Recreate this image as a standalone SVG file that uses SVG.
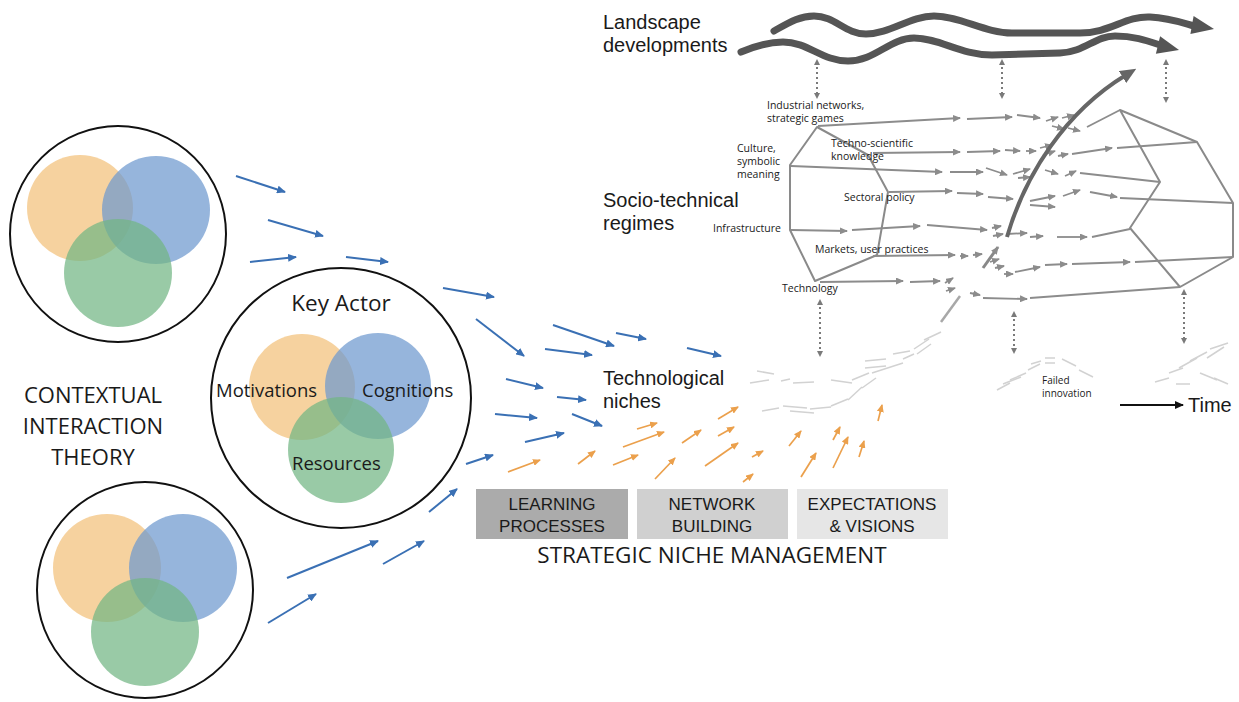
<svg xmlns="http://www.w3.org/2000/svg" width="1239" height="702" viewBox="0 0 1239 702">
<style>
text{font-family:"Open Sans","Liberation Sans",sans-serif;fill:#1a1a1a}
.ring{fill:none;stroke:#111;stroke-width:2}
.o{fill:#f2c07a;fill-opacity:.72}
.b{fill:#6d98cf;fill-opacity:.72}
.g{fill:#72b684;fill-opacity:.72}
.ba{stroke:#3a70b4;stroke-width:2;fill:none;marker-end:url(#mb)}
.oa{stroke:#eba04c;stroke-width:1.7;fill:none;marker-end:url(#mo)}
.ga{stroke:#8c8c8c;stroke-width:1.8;fill:none;marker-end:url(#mg)}
.gl{stroke:#8c8c8c;stroke-width:1.8;fill:none}
.poly{stroke:#8a8a8a;stroke-width:2;fill:none;stroke-linejoin:round}
.lt{stroke:#d2d2d2;stroke-width:1.5;fill:none}
.dot{stroke:#7a7a7a;stroke-width:2;stroke-dasharray:2 3;fill:none;marker-start:url(#md);marker-end:url(#md)}
.wave{stroke:#555;stroke-width:7;fill:none;stroke-linecap:round}
.lbl text{font-size:10.5px}
.lvl text{font-family:"Liberation Sans",Arial,sans-serif;font-size:20px}
.box text{font-family:"Liberation Sans",Arial,sans-serif;font-size:17px;text-anchor:middle}
</style>
<defs>
<marker id="mb" markerUnits="userSpaceOnUse" markerWidth="9" markerHeight="8" refX="8" refY="4" orient="auto"><path d="M0,0 L9,4 L0,8 z" fill="#3a70b4"/></marker>
<marker id="mo" markerUnits="userSpaceOnUse" markerWidth="8" markerHeight="7" refX="7" refY="3.5" orient="auto"><path d="M0,0 L8,3.5 L0,7 z" fill="#eba04c"/></marker>
<marker id="mg" markerUnits="userSpaceOnUse" markerWidth="8" markerHeight="7" refX="7" refY="3.5" orient="auto"><path d="M0,0 L8,3.5 L0,7 z" fill="#8c8c8c"/></marker>
<marker id="md" markerUnits="userSpaceOnUse" markerWidth="6" markerHeight="6" refX="3" refY="3" orient="auto-start-reverse"><path d="M0,0 L6,3 L0,6 z" fill="#7a7a7a"/></marker>
<marker id="mk" markerUnits="userSpaceOnUse" markerWidth="9" markerHeight="8" refX="8" refY="4" orient="auto"><path d="M0,0 L9,4 L0,8 z" fill="#111"/></marker>
<marker id="mc" markerUnits="userSpaceOnUse" markerWidth="16" markerHeight="14" refX="4" refY="7" orient="auto"><path d="M0,0 L16,7 L0,14 z" fill="#666"/></marker>
</defs>
<rect width="1239" height="702" fill="#fff"/>

<g id="context-top">
<circle class="o" cx="80" cy="208" r="53"/>
<circle class="b" cx="156" cy="210" r="54"/>
<circle class="g" cx="118" cy="273" r="54"/>
<circle class="ring" cx="118" cy="234" r="108"/>
</g>
<g id="context-bottom">
<circle class="o" cx="107" cy="568" r="54"/>
<circle class="b" cx="183" cy="568" r="54"/>
<circle class="g" cx="145" cy="632" r="54"/>
<circle class="ring" cx="145" cy="590" r="108"/>
</g>
<g id="key-actor">
<circle class="o" cx="302" cy="387" r="53"/>
<circle class="b" cx="378" cy="386" r="53"/>
<circle class="g" cx="341" cy="450" r="53"/>
<circle class="ring" cx="341" cy="398" r="130"/>
<text x="341" y="311" font-size="22.5" text-anchor="middle">Key Actor</text>
<text x="216" y="397" font-size="18.5">Motivations</text>
<text x="362" y="397" font-size="18.5">Cognitions</text>
<text x="292" y="470" font-size="18.5">Resources</text>
</g>
<g id="cit-label" font-size="22">
<text x="93" y="403" text-anchor="middle">CONTEXTUAL</text>
<text x="93" y="434" text-anchor="middle">INTERACTION</text>
<text x="93" y="465" text-anchor="middle">THEORY</text>
</g>

<g id="snm-boxes">
<rect x="476" y="489" width="152" height="50" fill="#ababab"/>
<rect x="637" y="489" width="151" height="50" fill="#d0d0d0"/>
<rect x="797" y="489" width="151" height="50" fill="#e6e6e6"/>
<g class="box">
<text x="552" y="510">LEARNING</text>
<text x="552" y="532">PROCESSES</text>
<text x="712" y="510">NETWORK</text>
<text x="712" y="532">BUILDING</text>
<text x="872" y="510">EXPECTATIONS</text>
<text x="872" y="532">&amp; VISIONS</text>
</g>
<text x="712" y="563" font-size="22.5" text-anchor="middle">STRATEGIC NICHE MANAGEMENT</text>
</g>

<g id="level-labels" class="lvl">
<text x="603" y="29">Landscape</text>
<text x="603" y="52">developments</text>
<text x="603" y="207">Socio-technical</text>
<text x="603" y="230">regimes</text>
<text x="603" y="385">Technological</text>
<text x="603" y="408">niches</text>
<text x="1188" y="412">Time</text>
</g>

<g id="regime-left">
<polygon class="poly" points="817,127 868,155 888,192 877,255 815,281 790,230 790,165"/>
</g>
<g id="regime-right">
<polygon class="poly" points="1120,110 1197,142 1233,203 1233,257 1180,287 1130,228 1160,182"/>
</g>
<g id="regime-labels" class="lbl">
<text x="767" y="109">Industrial networks,</text>
<text x="767" y="122">strategic games</text>
<text x="737" y="152">Culture,</text>
<text x="737" y="165">symbolic</text>
<text x="737" y="178">meaning</text>
<text x="831" y="147">Techno-scientific</text>
<text x="831" y="160">knowledge</text>
<text x="844" y="201">Sectoral policy</text>
<text x="713" y="232">Infrastructure</text>
<text x="815" y="253">Markets, user practices</text>
<text x="782" y="292">Technology</text>
<text x="1042" y="384" style="font-size:10px">Failed</text>
<text x="1042" y="397" style="font-size:10px">innovation</text>
</g>

<g id="connectors">
<path class="wave" d="M774,31 C790,22 800,16 814,16 C835,16 845,34 866,34 C890,34 910,16 934,16 C960,16 985,33 1012,33 L1080,33 C1110,33 1125,16 1150,17 C1170,18 1183,23 1194,26"/>
<polygon points="1214,29 1193.6,16.1 1190.4,33.9" fill="#555"/>
<path class="wave" d="M741,52 C755,46 768,42 783,42 C808,42 822,61 848,61 C875,61 890,38 914,38 C940,38 960,55 992,55 L1060,53 C1085,52 1095,36 1115,36 C1135,36 1148,41 1160,45"/>
<polygon points="1179,50 1160.1,36.2 1155.9,53.8" fill="#555"/>
<line class="dot" x1="817" y1="62" x2="817" y2="96"/>
<line class="dot" x1="1002" y1="62" x2="1002" y2="96"/>
<line class="dot" x1="1166" y1="62" x2="1166" y2="100"/>
<line class="dot" x1="820" y1="302" x2="820" y2="354"/>
<line class="dot" x1="1014" y1="314" x2="1014" y2="351"/>
<line class="dot" x1="1184" y1="292" x2="1184" y2="341"/>
<line class="ga" x1="818" y1="126" x2="960" y2="118"/>
<line class="ga" x1="967" y1="119" x2="1012" y2="117"/>
<line class="ga" x1="1017" y1="115" x2="1040" y2="118"/>
<line class="ga" x1="1046" y1="121" x2="1058" y2="117"/>
<line class="ga" x1="1052" y1="126" x2="1064" y2="129"/>
<line class="ga" x1="1062" y1="118" x2="1074" y2="115"/>
<line class="ga" x1="1068" y1="128" x2="1080" y2="131"/>
<line class="gl" x1="1087" y1="127" x2="1120" y2="110"/>
<line class="ga" x1="873" y1="153" x2="960" y2="152"/>
<line class="ga" x1="967" y1="152" x2="1000" y2="151"/>
<line class="ga" x1="1005" y1="150" x2="1020" y2="151"/>
<line class="ga" x1="1026" y1="151" x2="1036" y2="151"/>
<line class="ga" x1="1040" y1="148" x2="1052" y2="145"/>
<line class="ga" x1="1043" y1="155" x2="1055" y2="151"/>
<line class="ga" x1="1058" y1="156" x2="1068" y2="154"/>
<line class="ga" x1="1072" y1="154" x2="1112" y2="148"/>
<line class="gl" x1="1117" y1="148" x2="1197" y2="142"/>
<line class="ga" x1="791" y1="166" x2="942" y2="172"/>
<line class="ga" x1="950" y1="172" x2="983" y2="172"/>
<line class="ga" x1="986" y1="168" x2="1007" y2="175"/>
<line class="ga" x1="1013" y1="174" x2="1030" y2="169"/>
<line class="ga" x1="1018" y1="178" x2="1030" y2="177"/>
<line class="ga" x1="1045" y1="170" x2="1058" y2="174"/>
<line class="ga" x1="1065" y1="176" x2="1076" y2="171"/>
<line class="gl" x1="1080" y1="173" x2="1160" y2="182"/>
<line class="ga" x1="889" y1="192" x2="952" y2="191"/>
<line class="ga" x1="957" y1="193" x2="983" y2="194"/>
<line class="ga" x1="988" y1="197" x2="1013" y2="199"/>
<line class="ga" x1="1030" y1="201" x2="1055" y2="196"/>
<line class="ga" x1="1030" y1="205" x2="1055" y2="207"/>
<line class="ga" x1="1063" y1="196" x2="1080" y2="190"/>
<line class="ga" x1="1090" y1="192" x2="1117" y2="197"/>
<line class="gl" x1="1120" y1="198" x2="1233" y2="203"/>
<line class="ga" x1="791" y1="230" x2="847" y2="231"/>
<line class="ga" x1="852" y1="230" x2="920" y2="226"/>
<line class="ga" x1="927" y1="225" x2="987" y2="230"/>
<line class="ga" x1="992" y1="228" x2="1001" y2="226"/>
<line class="ga" x1="993" y1="236" x2="1003" y2="234"/>
<line class="ga" x1="1007" y1="234" x2="1027" y2="233"/>
<line class="ga" x1="1030" y1="237" x2="1043" y2="236"/>
<line class="ga" x1="1057" y1="237" x2="1087" y2="237"/>
<line class="gl" x1="1092" y1="237" x2="1130" y2="229"/>
<line class="ga" x1="873" y1="256" x2="955" y2="255"/>
<line class="ga" x1="960" y1="256" x2="968" y2="256"/>
<line class="ga" x1="973" y1="255" x2="982" y2="254"/>
<line class="ga" x1="990" y1="262" x2="999" y2="259"/>
<line class="ga" x1="995" y1="268" x2="1004" y2="266"/>
<line class="ga" x1="1004" y1="274" x2="1013" y2="274"/>
<line class="ga" x1="1015" y1="272" x2="1040" y2="267"/>
<line class="ga" x1="1045" y1="265" x2="1067" y2="264"/>
<line class="ga" x1="1072" y1="264" x2="1130" y2="262"/>
<line class="gl" x1="1135" y1="262" x2="1233" y2="257"/>
<line class="ga" x1="820" y1="282" x2="903" y2="281"/>
<line class="ga" x1="910" y1="282" x2="940" y2="281"/>
<line class="ga" x1="945" y1="283" x2="953" y2="278"/>
<line class="ga" x1="946" y1="291" x2="955" y2="288"/>
<line class="ga" x1="970" y1="293" x2="980" y2="295"/>
<line class="ga" x1="983" y1="298" x2="1027" y2="299"/>
<line class="gl" x1="1030" y1="298" x2="1180" y2="287"/>
<line stroke="#a8a8a8" stroke-width="2.5" x1="941" y1="322" x2="960" y2="296"/>
<line stroke="#888" stroke-width="3" x1="983" y1="268" x2="998" y2="247" marker-end="url(#mg)"/>
<path d="M1007,237 C1025,175 1065,112 1126,75" stroke="#666" stroke-width="4" fill="none" marker-end="url(#mc)"/>
<line class="lt" x1="750" y1="383" x2="769" y2="380"/>
<line class="lt" x1="757" y1="371" x2="774" y2="374"/>
<line class="lt" x1="781" y1="381" x2="790" y2="379"/>
<line class="lt" x1="793" y1="383" x2="814" y2="382"/>
<line class="lt" x1="831" y1="380" x2="852" y2="383"/>
<line class="lt" x1="852" y1="380" x2="869" y2="373"/>
<line class="lt" x1="865" y1="361" x2="886" y2="359"/>
<line class="lt" x1="865" y1="368" x2="886" y2="366"/>
<line class="lt" x1="872" y1="373" x2="903" y2="363"/>
<line class="lt" x1="893" y1="354" x2="910" y2="351"/>
<line class="lt" x1="903" y1="359" x2="914" y2="354"/>
<line class="lt" x1="914" y1="349" x2="929" y2="339"/>
<line class="lt" x1="917" y1="354" x2="931" y2="344"/>
<line class="lt" x1="924" y1="340" x2="941" y2="332"/>
<line class="lt" x1="762" y1="411" x2="779" y2="408"/>
<line class="lt" x1="783" y1="406" x2="807" y2="408"/>
<line class="lt" x1="790" y1="411" x2="814" y2="413"/>
<line class="lt" x1="810" y1="409" x2="831" y2="407"/>
<line class="lt" x1="831" y1="406" x2="848" y2="399"/>
<line class="lt" x1="848" y1="400" x2="862" y2="387"/>
<line class="lt" x1="862" y1="388" x2="876" y2="378"/>
<line class="lt" x1="997" y1="390" x2="1010" y2="383"/>
<line class="lt" x1="1003" y1="384" x2="1021" y2="377"/>
<line class="lt" x1="1010" y1="380" x2="1026" y2="373"/>
<line class="lt" x1="1028" y1="370" x2="1040" y2="364"/>
<line class="lt" x1="1031" y1="364" x2="1041" y2="361"/>
<line class="lt" x1="1045" y1="358" x2="1055" y2="358"/>
<line class="lt" x1="1045" y1="363" x2="1055" y2="363"/>
<line class="lt" x1="1062" y1="359" x2="1076" y2="366"/>
<line class="lt" x1="1079" y1="370" x2="1093" y2="377"/>
<line class="lt" x1="1155" y1="382" x2="1169" y2="378"/>
<line class="lt" x1="1169" y1="373" x2="1183" y2="368"/>
<line class="lt" x1="1176" y1="384" x2="1190" y2="384"/>
<line class="lt" x1="1179" y1="368" x2="1197" y2="358"/>
<line class="lt" x1="1190" y1="361" x2="1207" y2="352"/>
<line class="lt" x1="1207" y1="358" x2="1224" y2="347"/>
<line class="lt" x1="1210" y1="349" x2="1228" y2="343"/>
<line class="lt" x1="1200" y1="373" x2="1217" y2="380"/>
<line class="lt" x1="1214" y1="378" x2="1228" y2="384"/>
<line x1="1120" y1="405" x2="1183" y2="405" stroke="#111" stroke-width="2" marker-end="url(#mk)"/>
<line class="ba" x1="236" y1="176" x2="285" y2="192"/>
<line class="ba" x1="268" y1="220" x2="323" y2="236"/>
<line class="ba" x1="250" y1="262" x2="296" y2="257"/>
<line class="ba" x1="346" y1="257" x2="388" y2="262"/>
<line class="ba" x1="443" y1="288" x2="494" y2="297"/>
<line class="ba" x1="476" y1="319" x2="524" y2="356"/>
<line class="ba" x1="553" y1="325" x2="614" y2="346"/>
<line class="ba" x1="616" y1="333" x2="646" y2="339"/>
<line class="ba" x1="545" y1="349" x2="592" y2="355"/>
<line class="ba" x1="687" y1="348" x2="721" y2="356"/>
<line class="ba" x1="506" y1="379" x2="543" y2="388"/>
<line class="ba" x1="557" y1="397" x2="586" y2="400"/>
<line class="ba" x1="495" y1="414" x2="537" y2="418"/>
<line class="ba" x1="572" y1="414" x2="602" y2="426"/>
<line class="ba" x1="525" y1="442" x2="564" y2="433"/>
<line class="ba" x1="466" y1="464" x2="493" y2="455"/>
<line class="ba" x1="429" y1="512" x2="457" y2="489"/>
<line class="ba" x1="287" y1="578" x2="378" y2="541"/>
<line class="ba" x1="383" y1="564" x2="424" y2="541"/>
<line class="ba" x1="268" y1="623" x2="316" y2="594"/>
<line class="oa" x1="508" y1="472" x2="540" y2="460"/>
<line class="oa" x1="578" y1="464" x2="595" y2="451"/>
<line class="oa" x1="613" y1="465" x2="638" y2="455"/>
<line class="oa" x1="623" y1="447" x2="664" y2="432"/>
<line class="oa" x1="637" y1="429" x2="657" y2="423"/>
<line class="oa" x1="655" y1="479" x2="675" y2="458"/>
<line class="oa" x1="682" y1="443" x2="701" y2="430"/>
<line class="oa" x1="705" y1="466" x2="738" y2="443"/>
<line class="oa" x1="718" y1="436" x2="734" y2="427"/>
<line class="oa" x1="718" y1="419" x2="738" y2="407"/>
<line class="oa" x1="752" y1="457" x2="763" y2="451"/>
<line class="oa" x1="743" y1="482" x2="753" y2="474"/>
<line class="oa" x1="789" y1="446" x2="801" y2="431"/>
<line class="oa" x1="801" y1="477" x2="816" y2="453"/>
<line class="oa" x1="833" y1="468" x2="848" y2="437"/>
<line class="oa" x1="833" y1="440" x2="840" y2="427"/>
<line class="oa" x1="859" y1="457" x2="864" y2="441"/>
<line class="oa" x1="878" y1="421" x2="882" y2="405"/>
</g>
</svg>
